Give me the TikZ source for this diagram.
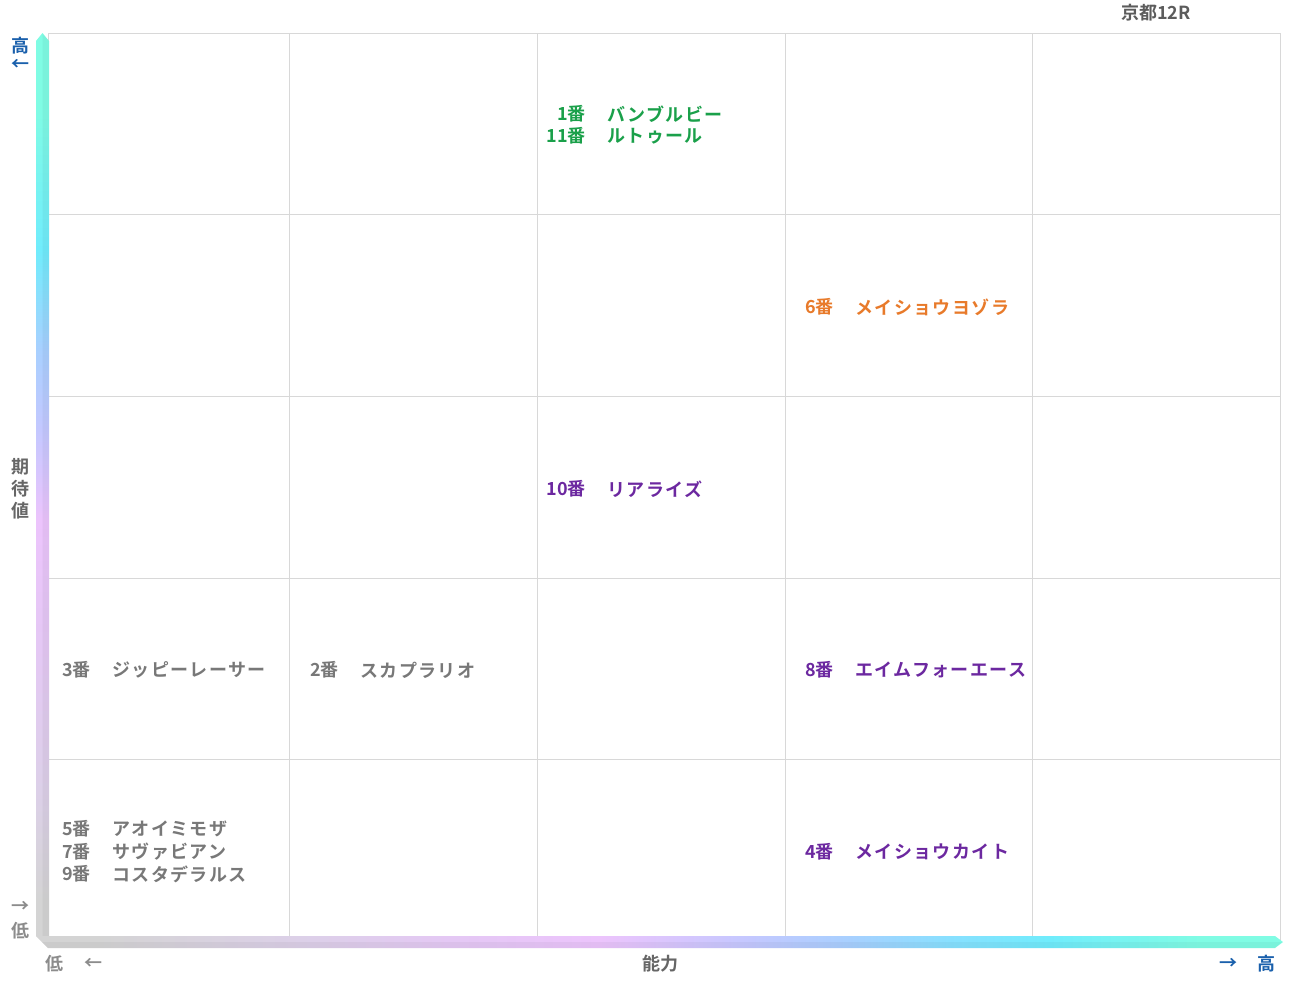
\documentclass[tikz,border=0pt]{standalone}
\usepackage{fontspec}
\newfontfamily\jp{Noto Sans CJK JP Bold}[LetterSpace=8]
\newfontfamily\jpn{Noto Sans CJK JP Bold}
\definecolor{cGr}{RGB}{212,212,212}
\definecolor{cGp}{RGB}{220,208,232}
\definecolor{cPl}{RGB}{228,200,244}
\definecolor{cPk}{RGB}{236,196,252}
\definecolor{cLv}{RGB}{196,200,255}
\definecolor{cLb}{RGB}{168,208,255}
\definecolor{cSk}{RGB}{136,224,255}
\definecolor{cCy}{RGB}{112,236,252}
\definecolor{cAq}{RGB}{128,252,228}
\definecolor{tGreen}{RGB}{26,160,74}
\definecolor{tOrange}{RGB}{232,122,42}
\definecolor{tPurple}{RGB}{108,40,160}
\definecolor{tGray}{RGB}{120,120,120}
\definecolor{aGray}{RGB}{102,102,102}
\definecolor{aLow}{RGB}{140,140,140}
\definecolor{aBlue}{RGB}{26,96,172}
\definecolor{gridc}{RGB}{216,216,216}
\pgfdeclareverticalshading{vaxis}{100bp}{color(0bp)=(cGr); color(27bp)=(cGr); color(33bp)=(cGp); color(41bp)=(cPl); color(48bp)=(cPk); color(53bp)=(cLv); color(57.5bp)=(cLb); color(63bp)=(cCy); color(71bp)=(cAq); color(100bp)=(cAq)}
\pgfdeclarehorizontalshading{haxis}{100bp}{color(0bp)=(cGr); color(27.5bp)=(cGr); color(35.6bp)=(cGp); color(41.6bp)=(cPl); color(47.6bp)=(cPk); color(53.6bp)=(cLv); color(57.6bp)=(cLb); color(61.6bp)=(cSk); color(65.6bp)=(cCy); color(71.7bp)=(cAq); color(100bp)=(cAq)}
\tikzset{
  gridline/.style={draw=gridc, line width=0.9pt},
  numlbl/.style={font=\jpn\fontsize{18}{22}\selectfont, inner sep=0pt, anchor=east, yshift=-1pt},
  namelbl/.style={font=\jp\fontsize{18}{22}\selectfont, inner sep=0pt, anchor=west, yshift=-1pt},
  axlbl/.style={font=\jpn\fontsize{18}{22}\selectfont, inner sep=0pt, yshift=-1pt},
}
\begin{document}
\begin{tikzpicture}[x=1pt,y=-1pt]
\useasboundingbox (0,0) rectangle (1291,983);
\fill[white] (0,0) rectangle (1291,983);
% grid
\draw[gridline] (48,33) rectangle (1280,940);
\foreach \gx in {289,537,785,1032} \draw[gridline] (\gx,33) -- (\gx,940);
\foreach \gy in {214,396,578,759} \draw[gridline] (48,\gy) -- (1280,\gy);
% axes bars
\shade[shading=vaxis] (36,936) -- (36,41) -- (42.5,33) -- (49,41) -- (49,936) -- cycle;
\fill[black, opacity=0.04] (42.5,34) -- (49,41) -- (49,936) -- (42.5,936) -- cycle;
\shade[shading=haxis] (36,936) -- (1275,936) -- (1283,942) -- (1275,948) -- (48,948) -- cycle;
\fill[black, opacity=0.04] (42,942) -- (1282,942) -- (1275,948) -- (48,948) -- cycle;
% title
\node[axlbl, text=aGray!90!black] (title) at (1156,12) {京都12R};
% axis labels
\node[axlbl, text=aBlue] (yhigh) at (20,45) {高};
\node[axlbl, text=aBlue] (yharr) at (20,64) {←};
\node[axlbl, text=aGray] (yl1) at (20,466) {期};
\node[axlbl, text=aGray] (yl2) at (20,488) {待};
\node[axlbl, text=aGray] (yl3) at (20,510) {値};
\node[axlbl, text=aLow] (ylarr) at (20,906) {→};
\node[axlbl, text=aLow] (ylow) at (20,930) {低};
\node[axlbl, text=aLow] (xlow) at (54,963) {低};
\node[axlbl, text=aLow] (xlarr) at (93,963) {←};
\node[axlbl, text=aGray] (xl) at (660,963) {能力};
\node[axlbl, text=aBlue] (xharr) at (1228,963) {→};
\node[axlbl, text=aBlue] (xhigh) at (1266,963) {高};
% entries
\node[numlbl, text=tGreen] (n1) at (586,113) {1番};
\node[namelbl, text=tGreen] (h1) at (607,113) {バンブルビー};
\node[numlbl, text=tGreen] (n11) at (586,135) {11番};
\node[namelbl, text=tGreen] (h11) at (607,135) {ルトゥール};
\node[numlbl, text=tOrange] (n6) at (834,306) {6番};
\node[namelbl, text=tOrange] (h6) at (855,306) {メイショウヨゾラ};
\node[numlbl, text=tPurple] (n10) at (586,488) {10番};
\node[namelbl, text=tPurple] (h10) at (607,488) {リアライズ};
\node[numlbl, text=tGray] (n3) at (91,669) {3番};
\node[namelbl, text=tGray] (h3) at (112,669) {ジッピーレーサー};
\node[numlbl, text=tGray] (n2) at (339,669) {2番};
\node[namelbl, text=tGray] (h2) at (360,669) {スカプラリオ};
\node[numlbl, text=tPurple] (n8) at (834,669) {8番};
\node[namelbl, text=tPurple] (h8) at (855,669) {エイムフォーエース};
\node[numlbl, text=tGray] (n5) at (91,828) {5番};
\node[namelbl, text=tGray] (h5) at (112,828) {アオイミモザ};
\node[numlbl, text=tGray] (n7) at (91,851) {7番};
\node[namelbl, text=tGray] (h7) at (112,851) {サヴァビアン};
\node[numlbl, text=tGray] (n9) at (91,873) {9番};
\node[namelbl, text=tGray] (h9) at (112,873) {コスタデラルス};
\node[numlbl, text=tPurple] (n4) at (834,851) {4番};
\node[namelbl, text=tPurple] (h4) at (855,851) {メイショウカイト};
\end{tikzpicture}
\end{document}
